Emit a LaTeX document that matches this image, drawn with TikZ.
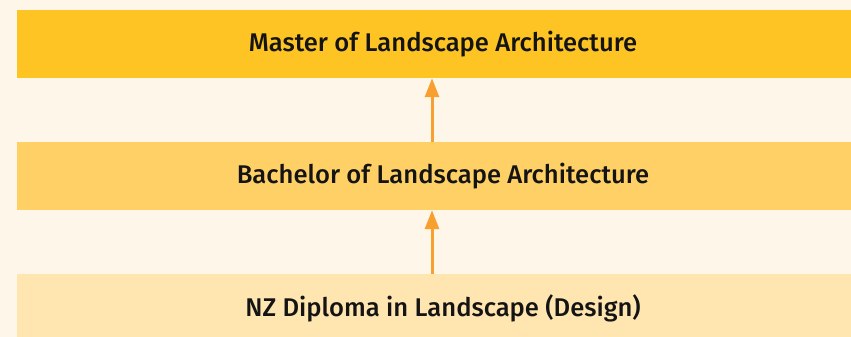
\documentclass[tikz,border=0pt]{standalone}
\usepackage{fontspec}
\setmainfont{Fira Sans}[UprightFont=* Medium]
\usetikzlibrary{arrows.meta}
\definecolor{bgcream}{HTML}{FDF6E9}
\definecolor{barone}{HTML}{FDC423}
\definecolor{bartwo}{HTML}{FFD066}
\definecolor{barthree}{HTML}{FFE5B0}
\definecolor{arroworange}{HTML}{F7A030}
\begin{document}
\begin{tikzpicture}[x=1pt,y=-1pt,
  bar/.style={minimum width=852pt, inner sep=0pt, font=\fontsize{25.6}{28}\selectfont, text=black!92},
  uparrow/.style={draw=arroworange, line width=3pt, -{Triangle[length=19pt,width=14pt]}}]
\fill [bgcream] (0,0) rectangle (851,337);
\clip (0,0) rectangle (851,337);
\node [bar, fill=barone, minimum height=68pt] (master) at (443,44) {\raisebox{-1pt}{Master of Landscape Architecture}};
\node [bar, fill=bartwo, minimum height=68pt] (bachelor) at (443,176) {\raisebox{-1.5pt}{Bachelor of Landscape Architecture}};
\node [bar, fill=barthree, minimum height=68pt] (diploma) at (443,308) {\raisebox{-1.5pt}{NZ Diploma in Landscape (Design)}};
%arrows up
\draw [uparrow] ([xshift=-11pt]bachelor.north) -- ([xshift=-11pt]master.south);
\draw [uparrow] ([xshift=-11pt]diploma.north) -- ([xshift=-11pt]bachelor.south);
\end{tikzpicture}
\end{document}
